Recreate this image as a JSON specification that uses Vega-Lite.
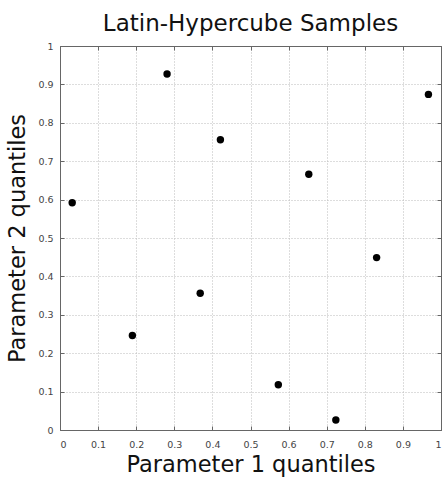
{
  "$schema": "https://vega.github.io/schema/vega-lite/v6.json",
  "width": 381,
  "height": 384,
  "autosize": "none",
  "padding": {"left": 60, "top": 46, "right": 3, "bottom": 49},
  "background": "white",
  "title": {
    "text": "Latin-Hypercube Samples",
    "font": "DejaVu Sans",
    "fontSize": 23,
    "fontWeight": "normal",
    "color": "#111",
    "anchor": "middle",
    "offset": 5
  },
  "config": {
    "view": {"stroke": "#666", "strokeWidth": 1},
    "axis": {
      "labelFont": "DejaVu Sans",
      "labelFontSize": 9.5,
      "labelColor": "#444",
      "titleFont": "DejaVu Sans",
      "titleFontSize": 22.5,
      "titleFontWeight": "normal",
      "titleColor": "#111",
      "domainColor": "#666",
      "tickColor": "#666",
      "tickSize": -4,
      "gridColor": "#bbb",
      "gridDash": [1, 2],
      "gridWidth": 1
    }
  },
  "data": {
    "values": [
      {"p1": 0.032, "p2": 0.592},
      {"p1": 0.190, "p2": 0.246},
      {"p1": 0.281, "p2": 0.927},
      {"p1": 0.368, "p2": 0.356},
      {"p1": 0.421, "p2": 0.756},
      {"p1": 0.573, "p2": 0.118},
      {"p1": 0.653, "p2": 0.666},
      {"p1": 0.724, "p2": 0.026},
      {"p1": 0.831, "p2": 0.449},
      {"p1": 0.967, "p2": 0.874}
    ]
  },
  "layer": [
    {
      "mark": {"type": "point", "filled": true, "color": "black", "opacity": 1, "size": 55},
      "encoding": {
        "x": {
          "field": "p1", "type": "quantitative",
          "scale": {"domain": [0, 1], "nice": false},
          "axis": {"title": "Parameter 1 quantiles", "values": [0,0.1,0.2,0.3,0.4,0.5,0.6,0.7,0.8,0.9,1], "format": "~g", "labelPadding": 13, "titlePadding": 5, "orient": "bottom"}
        },
        "y": {
          "field": "p2", "type": "quantitative",
          "scale": {"domain": [0, 1], "nice": false},
          "axis": {"title": "Parameter 2 quantiles", "values": [0,0.1,0.2,0.3,0.4,0.5,0.6,0.7,0.8,0.9,1], "format": "~g", "labelPadding": 11, "titlePadding": 8, "orient": "left"}
        }
      }
    },
    {
      "mark": {"type": "point", "opacity": 0},
      "encoding": {
        "x": {
          "field": "p1", "type": "quantitative",
          "scale": {"domain": [0, 1], "nice": false},
          "axis": {"title": null, "values": [0,0.1,0.2,0.3,0.4,0.5,0.6,0.7,0.8,0.9,1], "labels": false, "grid": false, "orient": "top"}
        },
        "y": {
          "field": "p2", "type": "quantitative",
          "scale": {"domain": [0, 1], "nice": false},
          "axis": {"title": null, "values": [0,0.1,0.2,0.3,0.4,0.5,0.6,0.7,0.8,0.9,1], "labels": false, "grid": false, "orient": "right"}
        }
      }
    }
  ],
  "resolve": {"axis": {"x": "independent", "y": "independent"}}
}
